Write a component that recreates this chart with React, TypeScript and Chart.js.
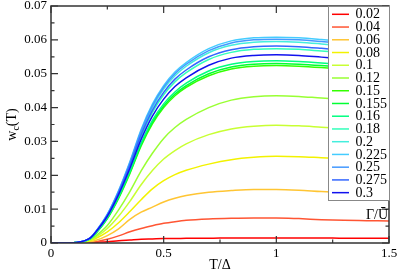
import React, { useEffect, useRef } from 'react';
import { Chart, registerables } from 'chart.js';

Chart.register(...registerables);

// Temperature grid T/Δ
const T = [0, 0.05, 0.1, 0.125, 0.15, 0.175, 0.2, 0.25, 0.3, 0.35, 0.4, 0.45, 0.5, 0.55, 0.6, 0.7, 0.8, 0.9, 1.0, 1.1, 1.2, 1.3, 1.4, 1.5];

const gammaLabels = ['0.02', '0.04', '0.06', '0.08', '0.1', '0.12', '0.15', '0.155', '0.16', '0.18', '0.2', '0.225', '0.25', '0.275', '0.3'];

const w002 = [0, 0, 0, 0, 0.0001, 0.0001, 0.0002, 0.0004, 0.0007, 0.0009, 0.0011, 0.0012, 0.0013, 0.0013, 0.0014, 0.0014, 0.0015, 0.0015, 0.0015, 0.0015, 0.0015, 0.0014, 0.0014, 0.0014];
const w004 = [0, 0, 0, 0.0001, 0.0001, 0.0002, 0.0004, 0.0011, 0.0021, 0.0033, 0.0043, 0.0051, 0.0058, 0.0063, 0.0067, 0.0071, 0.0073, 0.0074, 0.0074, 0.0072, 0.0069, 0.0067, 0.0066, 0.0065];
const w006 = [0, 0, 0.0001, 0.0001, 0.0002, 0.0004, 0.0008, 0.0022, 0.0042, 0.007, 0.0091, 0.0106, 0.0121, 0.0132, 0.014, 0.015, 0.0155, 0.0158, 0.0158, 0.0156, 0.0152, 0.0149, 0.0146, 0.0143];
const w008 = [0, 0, 0.0001, 0.0001, 0.0003, 0.0007, 0.0014, 0.0033, 0.006, 0.0093, 0.0128, 0.016, 0.0184, 0.0202, 0.0215, 0.0233, 0.0246, 0.0253, 0.0256, 0.0255, 0.0252, 0.0249, 0.0246, 0.0243];
const w010 = [0, 0, 0.0001, 0.0002, 0.0004, 0.0009, 0.0018, 0.0043, 0.0079, 0.0123, 0.0172, 0.0214, 0.0248, 0.0273, 0.0293, 0.032, 0.0337, 0.0345, 0.0348, 0.0346, 0.0342, 0.0338, 0.0334, 0.0329];
const w012 = [0, 0, 0.0001, 0.0002, 0.0005, 0.0011, 0.0022, 0.0052, 0.0098, 0.0152, 0.0213, 0.0265, 0.0309, 0.0341, 0.0365, 0.04, 0.0422, 0.0432, 0.0435, 0.0433, 0.0428, 0.0424, 0.0419, 0.0413];
const w015 = [0, 0, 0.0001, 0.0002, 0.0006, 0.0013, 0.0029, 0.0072, 0.0132, 0.0205, 0.0287, 0.0352, 0.04, 0.0435, 0.046, 0.0494, 0.0514, 0.0522, 0.0524, 0.0522, 0.0518, 0.0513, 0.0507, 0.05];
const w0155 = [0, 0, 0.0001, 0.0002, 0.0006, 0.0013, 0.003, 0.0073, 0.0134, 0.0208, 0.0291, 0.0357, 0.0405, 0.044, 0.0465, 0.05, 0.052, 0.0528, 0.053, 0.0528, 0.0524, 0.0519, 0.0513, 0.0506];
const w016 = [0, 0, 0.0001, 0.0002, 0.0006, 0.0013, 0.003, 0.0074, 0.0136, 0.0211, 0.0295, 0.0362, 0.0411, 0.0446, 0.0472, 0.0508, 0.0528, 0.0536, 0.0538, 0.0536, 0.0532, 0.0527, 0.052, 0.0513];
const w018 = [0, 0, 0.0001, 0.0003, 0.0006, 0.0014, 0.0032, 0.0079, 0.0145, 0.0225, 0.0314, 0.0386, 0.0438, 0.0476, 0.0503, 0.0542, 0.0563, 0.0572, 0.0574, 0.0572, 0.0567, 0.0562, 0.0555, 0.0548];
const w020 = [0, 0, 0.0001, 0.0003, 0.0007, 0.0015, 0.0034, 0.0083, 0.0151, 0.0234, 0.0327, 0.04, 0.0455, 0.0494, 0.0522, 0.0562, 0.0584, 0.0593, 0.0595, 0.0593, 0.0588, 0.0582, 0.0575, 0.0567];
const w0225 = [0, 0, 0.0001, 0.0003, 0.0007, 0.0016, 0.0035, 0.0085, 0.0155, 0.024, 0.0335, 0.041, 0.0465, 0.0505, 0.0533, 0.0574, 0.0597, 0.0606, 0.0608, 0.0606, 0.0601, 0.0595, 0.0588, 0.058];
const w025 = [0, 0, 0.0001, 0.0003, 0.0007, 0.0016, 0.0035, 0.0084, 0.0153, 0.0237, 0.0331, 0.0405, 0.046, 0.05, 0.0528, 0.0568, 0.0591, 0.06, 0.0602, 0.06, 0.0595, 0.0589, 0.0582, 0.0574];
const w0275 = [0, 0, 0.0001, 0.0003, 0.0007, 0.0015, 0.0034, 0.0082, 0.0149, 0.023, 0.032, 0.0392, 0.0445, 0.0484, 0.0511, 0.055, 0.0571, 0.058, 0.0582, 0.058, 0.0575, 0.0569, 0.0563, 0.0555];
const w030 = [0, 0, 0.0001, 0.0003, 0.0007, 0.0015, 0.0033, 0.0079, 0.0143, 0.022, 0.0306, 0.0375, 0.0425, 0.0462, 0.0488, 0.0525, 0.0546, 0.0554, 0.0556, 0.0554, 0.0549, 0.0544, 0.0538, 0.0531];

const seriesValues = [w002, w004, w006, w008, w010, w012, w015, w0155, w016, w018, w020, w0225, w025, w0275, w030];

const seriesColors = ['#ff0000', '#ff5533', '#ffc533', '#f2f200', '#c8ff33', '#99ff33', '#33ff00', '#00ff33', '#00ff80', '#33ffbb', '#44eedd', '#44ccff', '#4499ff', '#3366ff', '#1111ee'];

const xTicks = [0, 0.5, 1, 1.5];
const xTickLabels = ['0', '0.5', '1', '1.5'];
const xMinor = [0.25, 0.75, 1.25];
const yTicks = [0, 0.01, 0.02, 0.03, 0.04, 0.05, 0.06, 0.07];
const yTickLabels = ['0', '0.01', '0.02', '0.03', '0.04', '0.05', '0.06', '0.07'];
const yMinor = [0.005, 0.015, 0.025, 0.035, 0.045, 0.055, 0.065];

const SERIF = "'Liberation Serif', 'DejaVu Serif', serif";

const decorPlugin = {
  id: 'decor',
  afterDraw(chart: any) {
    const ctx = chart.ctx as CanvasRenderingContext2D;
    const { left, right, top, bottom } = chart.chartArea;
    const xs = chart.scales.x;
    const ys = chart.scales.y;
    ctx.save();
    // frame
    ctx.strokeStyle = '#333';
    ctx.lineWidth = 1.5;
    ctx.strokeRect(left, top, right - left, bottom - top);
    // inward ticks
    ctx.lineWidth = 1.2;
    ctx.beginPath();
    const tick = (len: number, vals: number[], axis: 'x' | 'y') => {
      vals.forEach((v) => {
        if (axis === 'x') {
          const px = xs.getPixelForValue(v);
          ctx.moveTo(px, bottom); ctx.lineTo(px, bottom - len);
          ctx.moveTo(px, top); ctx.lineTo(px, top + len);
        } else {
          const py = ys.getPixelForValue(v);
          ctx.moveTo(left, py); ctx.lineTo(left + len, py);
          ctx.moveTo(right, py); ctx.lineTo(right - len, py);
        }
      });
    };
    tick(7, xTicks, 'x');
    tick(3.5, xMinor, 'x');
    tick(7, yTicks, 'y');
    tick(3.5, yMinor, 'y');
    ctx.stroke();

    // legend box
    const bx = 328, by = top, bw = right + 1 - 328, bh = 201 - top;
    ctx.fillStyle = '#fff';
    ctx.fillRect(bx, by, bw, bh);
    ctx.strokeStyle = '#888';
    ctx.lineWidth = 1;
    ctx.strokeRect(bx + 0.5, by + 0.5, bw - 1, bh - 1);
    ctx.font = `14px ${SERIF}`;
    ctx.textAlign = 'left';
    ctx.textBaseline = 'middle';
    gammaLabels.forEach((lab, i) => {
      const yy = top + 8.3 + i * 12.74;
      ctx.strokeStyle = seriesColors[i];
      ctx.lineWidth = 1.5;
      ctx.beginPath();
      ctx.moveTo(332, yy);
      ctx.lineTo(349, yy);
      ctx.stroke();
      ctx.fillStyle = '#000';
      ctx.fillText(lab, 355.5, yy + 0.5);
    });

    // Γ/Ū label
    ctx.font = `14px ${SERIF}`;
    ctx.textAlign = 'right';
    ctx.fillStyle = '#000';
    ctx.fillText('Γ/Ū', 388, 215);

    // x title
    ctx.textAlign = 'center';
    ctx.font = `14px ${SERIF}`;
    ctx.fillText('T/Δ', (left + right) / 2, 265);

    // y title with subscript
    ctx.translate(12, (top + bottom) / 2);
    ctx.rotate(-Math.PI / 2);
    ctx.font = `14px ${SERIF}`;
    const w1 = ctx.measureText('w').width;
    const w3 = ctx.measureText('(T)').width;
    ctx.font = `10px ${SERIF}`;
    const w2 = ctx.measureText('c').width;
    let cx = -(w1 + w2 + w3) / 2;
    ctx.textAlign = 'left';
    ctx.font = `14px ${SERIF}`;
    ctx.fillText('w', cx, 0);
    cx += w1;
    ctx.font = `10px ${SERIF}`;
    ctx.fillText('c', cx, 4);
    cx += w2;
    ctx.font = `14px ${SERIF}`;
    ctx.fillText('(T)', cx, 0);
    ctx.restore();
  },
};

export default function App() {
  const ref = useRef<HTMLCanvasElement | null>(null);
  useEffect(() => {
    if (!ref.current) return;
    const n = seriesValues.length;
    const chart = new Chart(ref.current, {
      type: 'line',
      data: {
        datasets: seriesValues.map((vals, i) => ({
          label: gammaLabels[i],
          data: T.map((t, j) => ({ x: t, y: vals[j] })),
          borderColor: seriesColors[i],
          backgroundColor: seriesColors[i],
          borderWidth: 1.5,
          pointRadius: 0,
          fill: false,
          cubicInterpolationMode: 'monotone' as const,
          order: n - i,
        })),
      },
      options: {
        animation: false,
        responsive: true,
        maintainAspectRatio: false,
        layout: { padding: { left: 0, top: 6, right: 10, bottom: 0 } },
        plugins: { legend: { display: false }, tooltip: { enabled: false } },
        events: [],
        scales: {
          x: {
            type: 'linear',
            min: 0,
            max: 1.5,
            grid: { display: false, drawTicks: false },
            border: { display: false },
            afterBuildTicks: (s: any) => { s.ticks = xTicks.map((v) => ({ value: v })); },
            afterFit: (s: any) => { s.height = 29; s.paddingLeft = 0; s.paddingRight = 0; },
            ticks: {
              padding: 3,
              color: '#000',
              maxRotation: 0,
              autoSkip: false,
              font: { family: SERIF, size: 13 },
              callback: (_v: any, i: number) => xTickLabels[i],
            },
          },
          y: {
            type: 'linear',
            min: 0,
            max: 0.07,
            grid: { display: false, drawTicks: false },
            border: { display: false },
            afterBuildTicks: (s: any) => { s.ticks = yTicks.map((v) => ({ value: v })); },
            afterFit: (s: any) => { s.width = 51; s.paddingTop = 0; s.paddingBottom = 0; },
            ticks: {
              padding: 4,
              color: '#000',
              autoSkip: false,
              font: { family: SERIF, size: 13 },
              callback: (_v: any, i: number) => yTickLabels[i],
            },
          },
        },
      },
      plugins: [decorPlugin],
    });
    return () => chart.destroy();
  }, []);
  return (
    <div style={{ position: 'fixed', left: 0, top: 0, width: 399, height: 272, background: '#fff' }}>
      <canvas ref={ref} />
    </div>
  );
}
